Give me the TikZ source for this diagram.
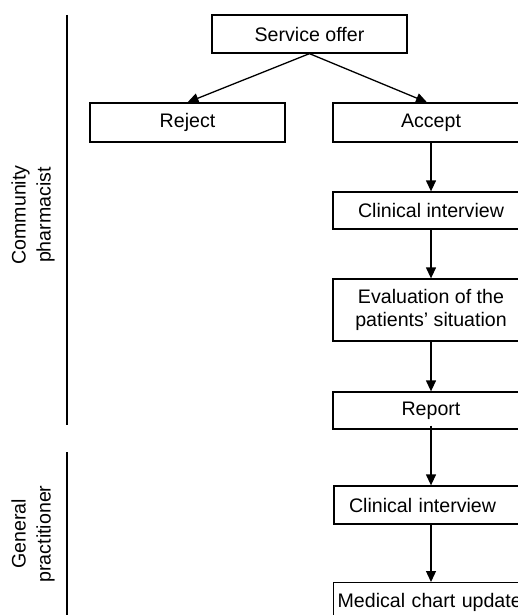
\documentclass[tikz,border=0pt]{standalone}
\usepackage{fontspec}
\setmainfont{Liberation Sans}
\usetikzlibrary{arrows.meta}
\begin{document}
\begin{tikzpicture}[x=1pt,y=-1pt,
  box/.style={draw,line width=1.3pt,rectangle,minimum width=195pt,inner sep=0pt,
    font=\fontsize{19.6}{23.5}\selectfont,align=center},
  lbl/.style={font=\fontsize{19.6}{25}\selectfont,align=center,rotate=90},
  flow/.style={line width=1.3pt,-{Triangle[length=11pt,width=10pt]}},
  lane/.style={line width=1.3pt}]
\useasboundingbox (0,0) rectangle (517,615);
\node[box,minimum height=38pt] (so) at (309.5,34) {Service offer};
\node[box,minimum height=39pt] (rej) at (187.5,122.5) {Reject};
\node[box,minimum height=39pt,minimum width=196pt] (acc) at (431,122.5) {Accept};
\node[box,minimum height=37pt,minimum width=196pt] (ci1) at (431,210.5) {Clinical interview};
\node[box,minimum height=62pt,minimum width=196pt] (ev) at (431,310) {Evaluation of the\\patients’ situation};
\node[box,minimum height=37pt,minimum width=196pt] (rep) at (431,410.5) {Report};
\node[box,minimum height=38pt,text width=165pt,inner xsep=15pt,align=left] (ci2) at (431.5,505) {Clinical interview};
\node[box,minimum height=40pt,anchor=north west,text width=190pt,inner xsep=4pt,align=left] (mcu) at (333,582) {Medical chart update};
\draw[flow] (so.south) -- (rej.north);
\draw[flow] (so.south) -- ([xshift=-4pt]acc.north);
\draw[flow] (acc) -- (ci1);
\draw[flow] (ci1) -- (ev);
\draw[flow] (ev) -- (rep);
\draw[flow] ([yshift=4pt]rep.south) -- (ci2.north -| rep.south);
\draw[flow] (ci2.south -| rep.south) -- (mcu.north -| rep.south);
\coordinate (l1a) at (67,15);
\coordinate (l1b) at (67,425);
\coordinate (l2a) at (67,452);
\coordinate (l2b) at (67,615);
\draw[lane] (l1a) -- (l1b);
\draw[lane] (l2a) -- (l2b);
\node[lbl] (cp) at (33,215) {Community\\pharmacist};
\node[lbl] (gp) at (33,534) {General\\practitioner};
\end{tikzpicture}
\end{document}
